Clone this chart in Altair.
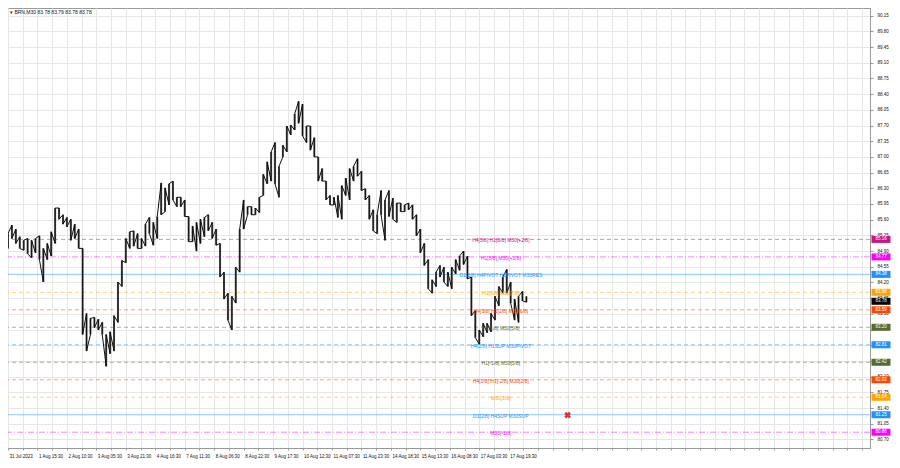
import altair as alt
import pandas as pd

# ---- price samples (bar index, high, low) ----
bars = list(range(0, 529, 4))
highs = [85.29, 85.48, 85.39, 85.22, 85.14, 85.18, 85.14, 85.18, 85.24, 84.96,
         85.07, 85.33, 85.86, 85.86, 85.71, 85.65, 85.61, 85.50, 85.39, 84.96,
         83.51, 83.40, 83.42, 83.38, 83.31, 83.04, 83.10, 83.46, 84.21, 84.69,
         85.18, 85.33, 85.35, 85.29, 85.18, 85.50, 85.65, 85.54, 85.67, 86.42,
         86.31, 86.40, 86.46, 86.10, 86.10, 86.04, 85.67, 85.46, 85.54, 85.61,
         85.65, 85.71, 85.54, 85.39, 85.07, 84.43, 83.96, 83.89, 84.54, 85.39,
         86.04, 85.89, 85.89, 85.86, 86.10, 86.61, 86.89, 87.11, 87.32, 86.79,
         87.26, 87.69, 87.71, 87.96, 88.24, 88.18, 87.69, 87.69, 87.43, 87.00,
         86.74, 86.46, 86.14, 86.10, 86.14, 86.36, 86.53, 86.74, 86.79, 86.96,
         86.68, 86.29, 86.14, 85.82, 85.71, 86.25, 86.04, 86.25, 86.08, 85.97,
         85.97, 85.93, 85.97, 85.93, 85.71, 85.39, 85.07, 84.71, 84.26, 84.43,
         84.58, 84.54, 84.43, 84.54, 84.71, 84.79, 84.90, 84.79, 84.32, 83.57,
         83.14, 83.29, 83.29, 83.51, 83.89, 84.11, 84.32, 84.49, 84.21, 83.83,
         83.89, 84.00, 83.89]
lows = [84.96, 85.18, 85.07, 84.96, 84.92, 84.84, 84.75, 84.86, 84.71, 84.21,
        84.71, 84.79, 85.07, 85.61, 85.50, 85.44, 85.14, 85.18, 84.96, 83.04,
        82.67, 83.04, 83.19, 83.14, 83.04, 82.33, 82.61, 82.67, 83.31, 84.11,
        84.64, 84.96, 85.01, 84.96, 84.96, 85.01, 85.29, 85.03, 85.18, 85.71,
        85.78, 85.93, 86.04, 85.89, 85.89, 85.67, 85.11, 85.11, 84.90, 85.07,
        85.22, 85.35, 85.18, 85.03, 84.32, 83.83, 83.36, 83.14, 83.74, 84.43,
        85.39, 85.71, 85.71, 85.71, 85.76, 86.14, 86.40, 86.46, 86.40, 86.10,
        87.00, 87.11, 87.49, 87.60, 87.75, 87.47, 87.32, 87.15, 87.00, 86.46,
        86.46, 86.04, 85.93, 85.93, 85.65, 85.61, 86.14, 86.04, 86.46, 86.57,
        86.25, 86.04, 85.61, 85.35, 85.29, 85.71, 85.14, 85.67, 85.61, 85.54,
        85.78, 85.78, 85.82, 85.61, 85.24, 84.86, 84.58, 84.06, 83.96, 84.11,
        84.32, 84.21, 84.11, 84.06, 84.39, 84.47, 84.60, 84.28, 83.46, 82.97,
        82.82, 82.99, 83.08, 83.10, 83.36, 83.68, 83.96, 83.96, 83.74, 83.36,
        83.31, 83.79, 83.76]
assert len(bars) == len(highs) == len(lows)

# ---- Murrey-style levels ----
level_prices = [85.16, 84.77, 84.38, 83.98, 83.59, 83.20, 82.81, 82.42, 82.03, 81.64, 81.25, 80.86]
level_labels = ["H4[5/8] H1[8/8] M30[+2/8]", "H1[5/8] M30[+1/8]",
                "D1[3/8] H4PIVOT H1PIVOT M30RES", "H1[3/8] M30[7/8]",
                "H4[3/8] H1[2/8] M30[6/8]", "H1[1/8] M30[5/8]",
                "H4[2/8] H1SUP M30PIVOT", "H1[-1/8] M30[3/8]",
                "H4[1/8] H1[-2/8] M30[2/8]", "M30[1/8]",
                "D1[2/8] H4SUP M30SUP", "M30[-1/8]"]
level_colors = ["#c71585", "#ff00ff", "#1e90ff", "#ffa500", "#ff4500", "#556b2f",
                "#1e90ff", "#556b2f", "#ff4500", "#ffa500", "#1e90ff", "#ff00ff"]
level_styles = ["dash", "dashdot", "solid", "dash", "dash", "dash",
                "dash", "dash", "dash", "dash", "solid", "dashdot"]

current_price = 83.78
title_text = "\u25BE BRN,M30  83.78 83.79 83.78 83.78"

y_ticks = [80.70, 81.05, 81.40, 81.75, 82.10, 82.45, 82.80, 83.15, 83.50, 83.85,
           84.20, 84.55, 84.90, 85.25, 85.60, 85.95, 86.30, 86.65, 87.00, 87.35,
           87.70, 88.05, 88.40, 88.75, 89.10, 89.45, 89.80, 90.15]
x_tick_labels = ["31 Jul 2023", "1 Aug 15:30", "2 Aug 10:30", "3 Aug 05:30", "3 Aug 21:30",
                 "4 Aug 16:30", "7 Aug 11:30", "8 Aug 06:30", "8 Aug 22:30", "9 Aug 17:30",
                 "10 Aug 12:30", "11 Aug 07:30", "11 Aug 23:30", "14 Aug 18:30",
                 "15 Aug 13:30", "16 Aug 08:30", "17 Aug 03:30", "17 Aug 19:30"]
x_grid = list(range(0, 878, 15))

cross_bar = [570]
cross_price = [81.24]

W, H = 862, 440
FONT = "Liberation Sans"

price_df = pd.DataFrame({"bar": bars, "high": highs, "low": lows})

# trace through each bar's range: high then low when the next bar is lower, else low then high
trace_rows = []
order = 0
for i, (b, hi, lo) in enumerate(zip(bars, highs, lows)):
    nxt_hi = highs[i + 1] if i + 1 < len(bars) else hi
    pair = (hi, lo) if nxt_hi < hi else (lo, hi)
    for p in pair:
        trace_rows.append({"bar": b, "price": p, "o": order})
        order += 1
trace_df = pd.DataFrame(trace_rows)

lvl_df = pd.DataFrame({"price": level_prices, "label": level_labels,
                       "color": level_colors, "style": level_styles})
box_prices = level_prices + [current_price]
box_df = pd.DataFrame({"price": box_prices, "color": level_colors + ["#000000"]})
box_df["txt"] = [f"{p:.2f}" for p in box_df["price"]]
cross_df = pd.DataFrame({"bar": cross_bar, "price": cross_price})

# tick labels that sit fully behind a price box are not shown (as in the reference)
hidden = [f"{t:.2f}" for t in y_ticks if any(abs(t - p) < 0.06 for p in box_prices)]
hidden_arr = "[" + ",".join("'" + s + "'" for s in hidden) + "]"

arr = "[" + ",".join("'" + s + "'" for s in x_tick_labels) + "]"
xscale = alt.Scale(domain=[0, 878], nice=False, zero=False)
yscale = alt.Scale(domain=[80.508, 90.321], nice=False, zero=False)
xaxis = alt.Axis(values=x_grid, grid=True, gridColor="#e6e6e6", gridWidth=1,
                 labelExpr=f"(datum.value % 30 == 0 && datum.value <= 510) ? {arr}[datum.value/30] : ''",
                 labelAlign="left", labelOffset=1, labelFont=FONT, labelFontSize=4.5,
                 labelColor="#111", labelPadding=3, tickSize=2, tickColor="#999",
                 domainColor="#999", labelOverlap=False, title=None, labelFlush=False)
yaxis = alt.Axis(values=y_ticks, orient="right", grid=True, gridColor="#e6e6e6",
                 format=".2f", labelFont=FONT, labelFontSize=4.5, labelColor="#111",
                 labelExpr=f"indexof({hidden_arr}, datum.label) >= 0 ? '' : datum.label",
                 labelPadding=4, tickSize=3, tickColor="#999", domainColor="#999",
                 labelOverlap=False, title=None)

def X(f):
    return alt.X(f, type="quantitative", scale=xscale, axis=xaxis, title=None)

def Y(f):
    return alt.Y(f, type="quantitative", scale=yscale, axis=yaxis, title=None)

candles = alt.Chart(price_df).mark_rule(strokeWidth=2, color="#555555").encode(
    x=X("bar"), y=Y("low"), y2="high")

trace = alt.Chart(trace_df).mark_line(strokeWidth=1, color="#111111").encode(
    x=X("bar"), y=Y("price"), order="o:Q")

lines = alt.Chart(lvl_df).mark_rule(strokeWidth=1, opacity=0.5).encode(
    y=Y("price"),
    color=alt.Color("color:N", scale=None),
    strokeDash=alt.StrokeDash("style:N", legend=None,
                              scale=alt.Scale(domain=["solid", "dash", "dashdot"],
                                              range=[[1, 0], [4, 3], [6, 2, 1, 2]])))

lvl_text = alt.Chart(lvl_df).mark_text(font=FONT, fontSize=5, align="center",
                                       baseline="middle", dy=1).encode(
    x=alt.datum(502, scale=xscale, axis=xaxis),
    y=Y("price"),
    text="label:N",
    color=alt.Color("color:N", scale=None))

boxes = alt.Chart(box_df).mark_tick(orient="horizontal", size=19, thickness=7, opacity=1).encode(
    x=alt.value(W + 11), y=Y("price"), color=alt.Color("color:N", scale=None))

box_text = alt.Chart(box_df).mark_text(font=FONT, fontSize=4.5, color="white",
                                       align="center", baseline="middle").encode(
    x=alt.value(W + 11), y=Y("price"), text="txt:N")

cross = alt.Chart(cross_df).mark_point(shape="cross", angle=45, filled=True,
                                       color="#e03030", size=45, opacity=1).encode(
    x=X("bar"), y=Y("price"))

title = alt.Chart(pd.DataFrame({"t": [title_text]})).mark_text(
    font=FONT, fontSize=5, align="left", baseline="middle", color="#111").encode(
    x=alt.value(2), y=alt.value(4), text="t:N")

chart = alt.layer(lines, candles, trace, lvl_text, cross, boxes, box_text, title).properties(
    width=W, height=H, autosize=alt.AutoSizeParams(type="none"),
    padding={"left": 0, "top": 0, "right": 22, "bottom": 12},
    background="white",
).configure_view(stroke="#999", strokeWidth=1)

chart.save("out.html", embed_options={"renderer": "svg", "actions": False})
